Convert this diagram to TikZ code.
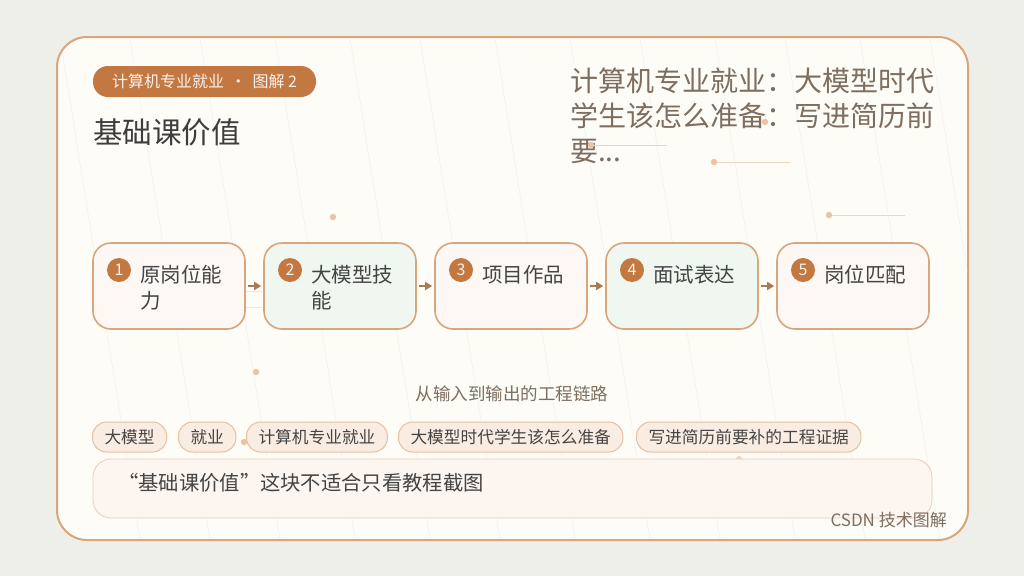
\documentclass[tikz,border=0pt]{standalone}
\usepackage{fontspec}
\setmainfont{Noto Sans CJK SC}
\usetikzlibrary{arrows.meta}
\definecolor{bgA}{HTML}{EFEFE9}
\definecolor{bgB}{HTML}{E6EFE8}
\definecolor{card}{HTML}{FDFCF7}
\definecolor{edge}{HTML}{D9A57A}
\definecolor{rust}{HTML}{C47841}
\definecolor{ink}{HTML}{444444}
\definecolor{muted}{HTML}{7D6E60}
\definecolor{warm}{HTML}{FDF8F4}
\definecolor{mint}{HTML}{EFF7F0}
\definecolor{chipfill}{HTML}{F9ECE2}
\definecolor{chipedge}{HTML}{E8C0A0}
\definecolor{dotc}{HTML}{E8C3A5}
\definecolor{arrc}{HTML}{A87A55}
\tikzset{
  stepbox/.style={draw=edge, line width=1.6pt, rounded corners=18pt, minimum width=152pt, minimum height=86pt, inner sep=0pt},
  numdot/.style={circle, fill=rust, minimum size=24pt, inner sep=0pt, text=white!90!rust, font=\fontsize{16}{16}\selectfont},
  steptext/.style={anchor=north west, align=left, inner sep=0pt, text=ink, font=\fontsize{20.5}{26}\selectfont},
  chip/.style={draw=chipedge, fill=chipfill, line width=1pt, rounded corners=14pt, minimum height=30pt, inner xsep=12pt, inner ysep=0pt, text=ink, font=\fontsize{16.7}{16}\selectfont},
  flow/.style={-{Triangle[length=7pt,width=8pt]}, draw=arrc, line width=2pt, shorten >=2pt, shorten <=2pt},
  deco/.style={draw=dotc!70, line width=0.8pt},
  streak/.style={draw=gray!10, line width=0.6pt}
}
\begin{document}
\begin{tikzpicture}[x=1pt,y=-1pt]
\useasboundingbox (0,0) rectangle (1024,576);
\fill[bgA] (0,0) rectangle (1024,576);
% card
\node[draw=edge, line width=2pt, fill=card, rounded corners=30pt, minimum width=911pt, minimum height=503pt, inner sep=0pt] (card) at (512.5,288.5) {};
% faint streaks
\begin{scope}
\clip[rounded corners=30pt] (58,38) rectangle (967,539);
\foreach \x in {60,130,200,275,350,420,495,570,640,715,785,860,930,1000}
  \draw[streak] (\x,38) -- (\x+80,539);
\end{scope}
% tag
\node[fill=rust, rounded corners=15pt, minimum width=223pt, minimum height=31pt, inner sep=0pt, text=white!90!rust, font=\fontsize{16}{16}\selectfont] (tag) at (204.5,81.5) {计算机专业就业 \,·\, 图解 2};
\node[anchor=west, inner sep=0pt, text=ink!90!black, font=\fontsize{29.5}{29.5}\selectfont] (title) at (93,132) {基础课价值};
\node[anchor=north west, align=left, inner sep=0pt, text=muted, font=\fontsize{28}{35}\selectfont] (head) at (570,68) {计算机专业就业：大模型时代\\学生该怎么准备：写进简历前\\要...};
% decorations
\draw[deco] (591,145) -- (667,145);
\fill[dotc] (591,145) circle (3.2pt);
\draw[deco] (714,162) -- (790,162);
\fill[dotc] (714,162) circle (3.2pt);
\draw[deco] (829,215) -- (905,215);
\fill[dotc] (829,215) circle (3.2pt);
\fill[dotc] (765,122) circle (3.2pt);
\fill[dotc] (333,217) circle (3.2pt);
\fill[dotc] (256,372) circle (3.2pt);
\fill[dotc] (244,442) circle (3.2pt);
\fill[dotc!70] (739,459) circle (3pt);
\fill[dotc!50] (651,471) circle (3pt);
\draw[deco, draw=dotc!45] (245,291) -- (262,291);
\draw[deco, draw=dotc!45] (245,307) -- (262,307);
% steps
\node[stepbox, fill=warm] (b1) at (169,286) {};
\node[stepbox, fill=mint] (b2) at (340,286) {};
\node[stepbox, fill=warm] (b3) at (511,286) {};
\node[stepbox, fill=mint] (b4) at (682,286) {};
\node[stepbox, fill=warm] (b5) at (853,286) {};
\node[numdot] (n1) at (119,270) {1};
\node[numdot] (n2) at (290,270) {2};
\node[numdot] (n3) at (461,270) {3};
\node[numdot] (n4) at (632,270) {4};
\node[numdot] (n5) at (803,270) {5};
\node[steptext] (t1) at (140,265) {原岗位能\\力};
\node[steptext] (t2) at (311,265) {大模型技\\能};
\node[steptext] (t3) at (482,265) {项目作品};
\node[steptext] (t4) at (653,265) {面试表达};
\node[steptext] (t5) at (824,265) {岗位匹配};
\draw[flow] (b1) -- (b2);
\draw[flow] (b2) -- (b3);
\draw[flow] (b3) -- (b4);
\draw[flow] (b4) -- (b5);
% caption
\node[inner sep=0pt, text=muted, font=\fontsize{17.5}{17.5}\selectfont] (cap) at (512,394) {从输入到输出的工程链路};
% chips
\node[chip, anchor=west] (c1) at (92,437) {大模型};
\node[chip, anchor=west] (c2) at (178,437) {就业};
\node[chip, anchor=west] (c3) at (246,437) {计算机专业就业};
\node[chip, anchor=west] (c4) at (398,437) {大模型时代学生该怎么准备};
\node[chip, anchor=west] (c5) at (636,437) {写进简历前要补的工程证据};
% note
\node[draw=chipedge!80, fill=chipfill!50, line width=0.8pt, rounded corners=18pt, minimum width=839pt, minimum height=59pt, inner sep=0pt] (note) at (512.5,488.5) {};
\node[anchor=west, inner sep=0pt, text=ink, font=\fontsize{20.3}{20.3}\selectfont] (notetext) at (118,483) {“基础课价值”这块不适合只看教程截图};
\node[anchor=east, inner sep=0pt, text=muted, font=\fontsize{17}{17}\selectfont] (brand) at (947,520) {CSDN 技术图解};
\end{tikzpicture}
\end{document}
